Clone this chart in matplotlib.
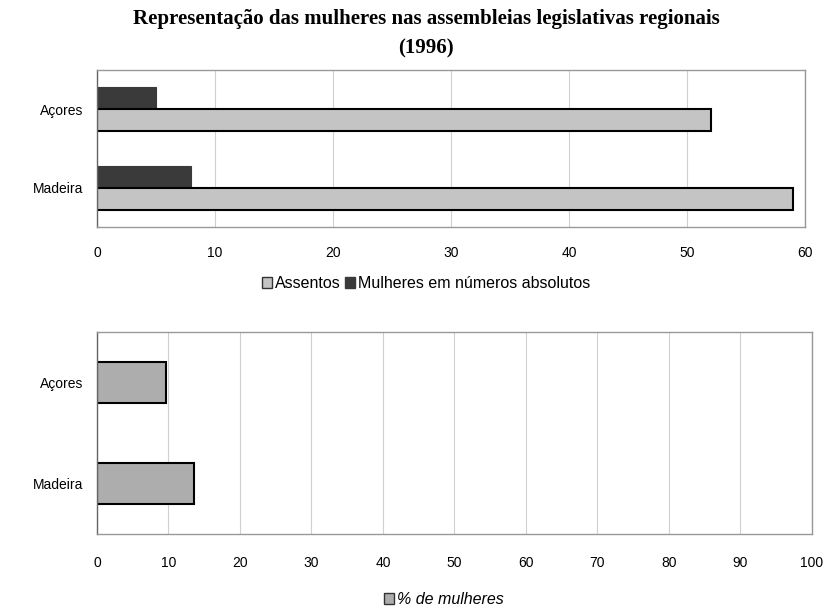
import numpy as np
import matplotlib
matplotlib.use('Agg')
import matplotlib.pyplot as plt
from matplotlib.patches import Patch

plt.rcParams['font.family'] = ['Liberation Sans', 'DejaVu Sans']

regions = ['Açores', 'Madeira']
assentos = [52, 59]
mulheres = [5, 8]
pct_mulheres = [9.6, 13.6]

title = 'Representação das mulheres nas assembleias legislativas regionais\n(1996)'

fig = plt.figure(figsize=(8.39, 6.08), dpi=100)
fig.text(0.508, 0.985, title, ha='center', va='top', fontsize=15, fontweight='bold',
         family='Liberation Serif', linespacing=1.65)

light = '#c4c4c4'
dark = '#3a3a3a'
mid = '#adadad'
grid_c = '#d0d0d0'
spine_c = '#999999'


def style_axes(ax, xmax, step, pad):
    ax.set_xlim(0, xmax)
    ax.set_xticks(np.arange(0, xmax + 1, step))
    ax.set_ylim(1.5, -0.5)
    ax.set_yticks(range(len(regions)))
    ax.set_yticklabels(regions)
    ax.grid(axis='x', color=grid_c, linewidth=0.8)
    ax.set_axisbelow(True)
    ax.tick_params(axis='x', length=0, pad=pad, labelsize=10)
    ax.tick_params(axis='y', length=0, pad=10, labelsize=10)
    for s in ax.spines.values():
        s.set_color(spine_c)
        s.set_linewidth(1.0)
    ax.spines['left'].set_color('#666666')


# top chart: seats and women in absolute numbers
ax1 = fig.add_axes([0.1156, 0.6266, 0.8439, 0.2583])
y = np.arange(len(regions))
h = 0.28
ax1.barh(y - h / 2, mulheres, height=h, color=dark, edgecolor=dark, linewidth=0.8)
ax1.barh(y + h / 2, assentos, height=h, color=light, edgecolor='black', linewidth=1.5)
style_axes(ax1, 60, 10, 14)
ax1.legend(handles=[Patch(facecolor=light, edgecolor='#333333', label='Assentos'),
                    Patch(facecolor=dark, edgecolor=dark, label='Mulheres em números absolutos')],
           loc='center', bbox_to_anchor=(0.465, -0.36), ncol=2, frameon=False, fontsize=11.5,
           handlelength=0.6, handleheight=0.7, handletextpad=0.2, columnspacing=0.3)

# bottom chart: percentage of women
ax2 = fig.add_axes([0.1156, 0.1217, 0.8522, 0.3322])
ax2.barh(y, pct_mulheres, height=0.41, color=mid, edgecolor='black', linewidth=1.5)
style_axes(ax2, 100, 10, 16)
ax2.legend(handles=[Patch(facecolor=mid, edgecolor='#333333', label='% de mulheres')],
           loc='center', bbox_to_anchor=(0.485, -0.325), frameon=False,
           prop={'size': 11.5, 'style': 'italic'},
           handlelength=0.6, handleheight=0.7, handletextpad=0.2)

fig.savefig('out.png', dpi=100)
